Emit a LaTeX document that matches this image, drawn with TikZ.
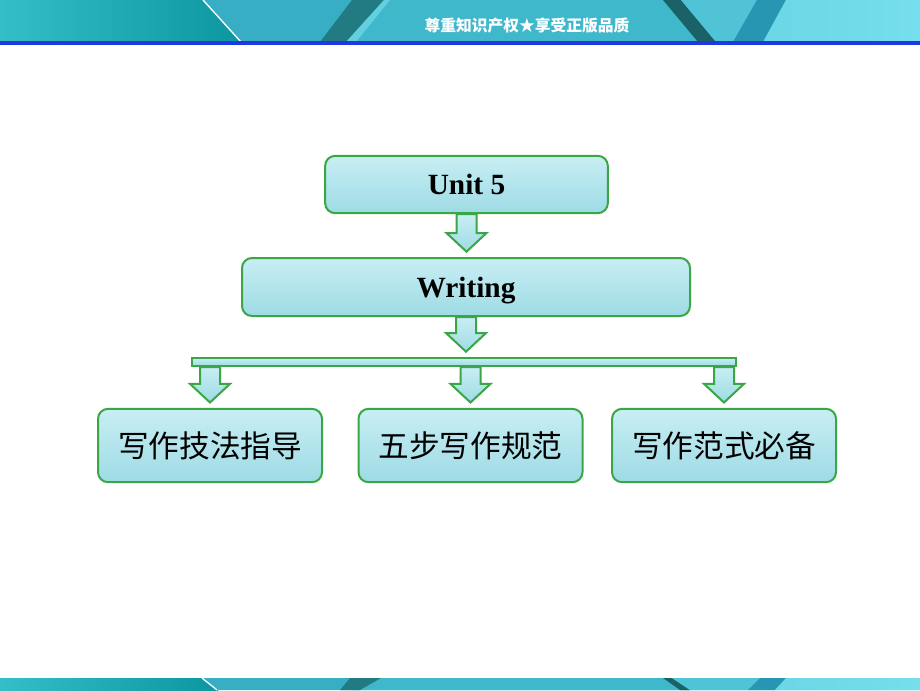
\documentclass[tikz,border=0pt]{standalone}
\usepackage{fontspec}
\setmainfont{Liberation Serif}
\newfontfamily\cjk{Noto Sans CJK SC}
\usepackage{tikz}
\usetikzlibrary{calc}

\definecolor{frameGreen}{RGB}{58,166,70}
\definecolor{dropTop}{RGB}{200,238,243}
\definecolor{dropBot}{RGB}{158,219,229}
\definecolor{bandA}{RGB}{52,190,200}
\definecolor{bandB}{RGB}{12,150,160}
\definecolor{bandC}{RGB}{56,174,196}
\definecolor{bandD}{RGB}{64,184,204}
\definecolor{bandE}{RGB}{118,222,236}
\definecolor{bandDark}{RGB}{34,122,130}
\definecolor{bandBlue}{RGB}{38,150,178}
\definecolor{lineBlue}{RGB}{30,56,226}

\tikzset{
  dropbox/.style={draw=frameGreen, line width=1.5pt, rounded corners=7.5pt,
    top color=dropTop, bottom color=dropBot, inner sep=0pt, align=center},
  blockarr/.style={draw=frameGreen, line width=1.5pt, top color=dropTop, bottom color=dropBot,
    to path={let \p1=(\tikztostart), \p2=(\tikztotarget) in
      (\x1-7.5pt,\y1) -- (\x1-7.5pt,\y2-18pt) -- (\x1-15pt,\y2-18pt) -- (\x1,\y2-4pt)
      -- (\x1+15pt,\y2-18pt) -- (\x1+7.5pt,\y2-18pt) -- (\x1+7.5pt,\y1) -- cycle}},
  enfont/.style={font=\fontsize{22}{24}\selectfont\bfseries, text depth=0pt},
  cnfont/.style={font=\cjk\fontsize{23}{25}\selectfont},
}

\begin{document}
\begin{tikzpicture}[x=0.75pt,y=0.75pt,yscale=-1,xscale=1]
\useasboundingbox (0,0) rectangle (920,690);
\fill[white] (0,0) rectangle (920,690);

%Shape: Header band
\shade[left color=bandA, right color=bandB] (0,0) rectangle (242,42);
\fill[bandC] (203,0) -- (920,0) -- (920,42) -- (241,42) -- cycle;
\fill[bandD] (387,0) -- (663,0) -- (698,42) -- (350,42) -- cycle;
\fill[bandDark] (352,0) -- (384,0) -- (346,42) -- (320,42) -- cycle;
\fill[bandE!70!bandC] (384,0) -- (390,0) -- (356,42) -- (346,42) -- cycle;
\fill[bandDark!80!black] (663,0) -- (681,0) -- (716,42) -- (698,42) -- cycle;
\fill[bandD!70!bandE] (681,0) -- (757,0) -- (733,42) -- (716,42) -- cycle;
\fill[bandBlue] (757,0) -- (786,0) -- (763,42) -- (733,42) -- cycle;
\shade[left color=bandE!80!bandD, right color=bandE] (786,0) -- (920,0) -- (920,42) -- (763,42) -- cycle;
\draw[white, line width=1pt] (203,0) -- (241,42);
%Straight Lines: header rule
\fill[lineBlue] (0,41) rectangle (920,45);

% Text Node
\node[text=white, font=\cjk\bfseries\fontsize{11.8}{12}\selectfont] (slogan) at (527,26) {尊重知识产权★享受正版品质};

%Shape: Footer band
\shade[left color=bandA, right color=bandB] (0,678) rectangle (218,690);
\fill[bandC] (202,678) -- (920,678) -- (920,690) -- (217,690) -- cycle;
\fill[bandD] (381,678) -- (663,678) -- (690,690) -- (350,690) -- cycle;
\fill[bandDark] (350,678) -- (381,678) -- (360,690) -- (340,690) -- cycle;
\fill[bandDark!80!black] (663,678) -- (672,678) -- (690,690) -- (680,690) -- cycle;
\fill[bandD!70!bandE] (672,678) -- (786,678) -- (748,690) -- (690,690) -- cycle;
\fill[bandBlue] (760,678) -- (786,678) -- (775,690) -- (748,690) -- cycle;
\shade[left color=bandE!80!bandD, right color=bandE] (786,678) -- (920,678) -- (920,690) -- (775,690) -- cycle;
\draw[white, line width=1pt] (202,678) -- (217,690);

%Shape: Boxes
\node[dropbox, enfont, minimum width=212pt, minimum height=43pt] (unit) at (466.5,184.5) {Unit 5};
\node[dropbox, enfont, minimum width=336pt, minimum height=43.5pt] (writing) at (466,287) {Writing};
\node[draw=frameGreen, line width=1.5pt, top color=dropTop, bottom color=dropBot,
  minimum width=408pt, minimum height=6pt, inner sep=0pt] (bar) at (464,362) {};
\node[dropbox, cnfont, minimum width=168pt, minimum height=55pt] (skill) at (210,445.5) {写作技法指导};
\node[dropbox, cnfont, minimum width=168pt, minimum height=55pt] (steps) at (470.5,445.5) {五步写作规范};
\node[dropbox, cnfont, minimum width=168pt, minimum height=55pt] (model) at (724,445.5) {写作范式必备};

%Block arrows
\draw[blockarr] (unit.south) to (writing.north);
\draw[blockarr] (writing.south) to (bar.north);
\draw[blockarr] (bar.south -| skill.north) to (skill.north);
\draw[blockarr] (bar.south -| steps.north) to (steps.north);
\draw[blockarr] (bar.south -| model.north) to (model.north);

\end{tikzpicture}
\end{document}
